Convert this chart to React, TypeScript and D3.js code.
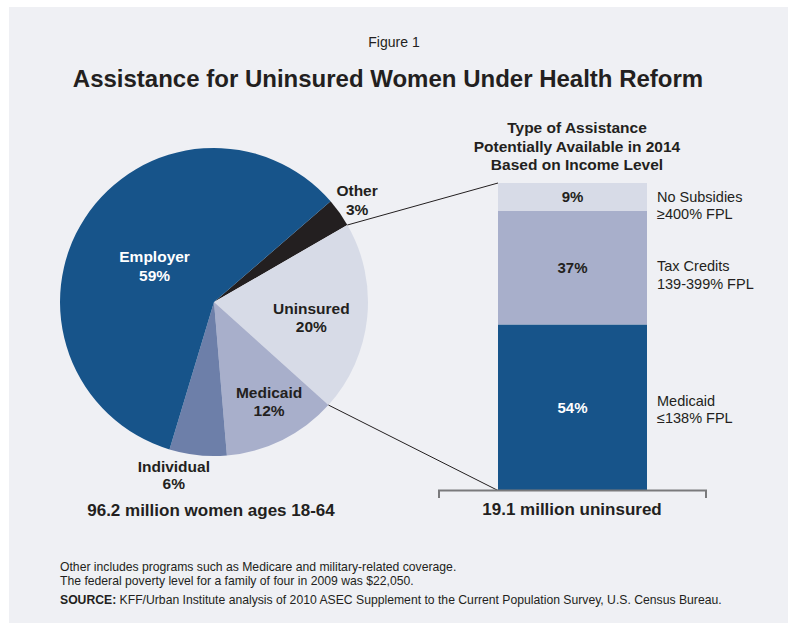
import React from "react";
import * as d3 from "d3";

// ---- Data ----
const pieCategories = ["Other", "Uninsured", "Medicaid", "Individual", "Employer"];
const pieValues = [3, 20, 12, 6, 59];
const barCategories = ["Medicaid", "Tax Credits", "No Subsidies"];
const barValues = [54, 37, 9];
const barSubLabels = ["\u2264138% FPL", "139-399% FPL", "\u2265400% FPL"];
const titleText = "Assistance for Uninsured Women Under Health Reform";
const figureText = "Figure 1";
const barTitleLines = ["Type of Assistance", "Potentially Available in 2014", "Based on Income Level"];
const pieCaption = "96.2 million women ages 18-64";
const barCaption = "19.1 million uninsured";
const notes = [
  "Other  includes programs such as Medicare and military-related coverage.",
  "The federal poverty level for a family of four in 2009 was $22,050.",
];
const sourceBold = "SOURCE:";
const sourceText = " KFF/Urban Institute analysis of 2010 ASEC Supplement to the Current Population Survey, U.S. Census Bureau.";

// ---- Styles ----
const W = 788;
const H = 623;
const BG = "#eff0f4";
const TEXT = "#231f20";
const FONT = "'Liberation Sans', Arial, Helvetica, sans-serif";
const pieColors: Record<string, string> = {
  Other: "#231f20",
  Uninsured: "#d7dbe7",
  Medicaid: "#a8afcb",
  Individual: "#6d7fa9",
  Employer: "#17548a",
};
const pieLabelColors: Record<string, string> = {
  Other: TEXT,
  Uninsured: TEXT,
  Medicaid: TEXT,
  Individual: TEXT,
  Employer: "#ffffff",
};
// label radius factor, angular offset (degrees), line gap (em)
const pieLabelPlacement: Record<string, [number, number, number]> = {
  Other: [1.14, 0, 1.2],
  Uninsured: [0.64, 3, 1.2],
  Medicaid: [0.74, -2.5, 1.2],
  Individual: [1.16, 7, 1.1],
  Employer: [0.45, -2, 1.2],
};
const barColors: Record<string, string> = {
  Medicaid: "#17548a",
  "Tax Credits": "#a8afcb",
  "No Subsidies": "#d7dbe7",
};
const barLabelColors: Record<string, string> = {
  Medicaid: "#ffffff",
  "Tax Credits": TEXT,
  "No Subsidies": TEXT,
};
// baseline shift of the side label's first line relative to the segment middle (px)
const sideLabelShift: Record<string, number> = {
  Medicaid: -1.8,
  "Tax Credits": 3.7,
  "No Subsidies": 4.7,
};

export default function App() {
  const cx = 214;
  const cy = 302;
  const r = 154;
  const startDeg = 49.2;
  const start = (startDeg * Math.PI) / 180;

  const pie = d3
    .pie<number>()
    .sort(null)
    .startAngle(start)
    .endAngle(start + 2 * Math.PI);
  const arcs = pie(pieValues);
  const arcGen = d3.arc<d3.PieArcDatum<number>>().innerRadius(0).outerRadius(r);

  const pt = (a: number, rr: number): [number, number] => [cx + rr * Math.sin(a), cy - rr * Math.cos(a)];

  // Bar scales
  const x = d3.scaleBand<string>().domain(["uninsured"]).range([439, 706]).paddingInner(0).paddingOuter(0.396);
  const y = d3.scaleLinear().domain([0, 100]).range([490.5, 183]);
  const bx = x("uninsured") as number;
  const bw = x.bandwidth();

  let cum = 0;
  const stacks = barValues.map((v, i) => {
    const s = { cat: barCategories[i], v, y0: cum, y1: cum + v, sub: barSubLabels[i] };
    cum += v;
    return s;
  });

  // connector endpoints
  const uninsuredIdx = pieCategories.indexOf("Uninsured");
  const ua = arcs[uninsuredIdx];
  const pTop = pt(ua.startAngle, r);
  const pBot = pt(ua.endAngle, r);

  return (
    <svg
      width={W}
      height={H}
      style={{ position: "absolute", left: 0, top: 0, fontFamily: FONT }}
    >
      <rect x={0} y={0} width={W} height={H} fill="#ffffff" />
      <rect x={9} y={7} width={W - 9} height={H - 7} fill={BG} />

      <text x={394} y={47} textAnchor="middle" fontSize={14} fill={TEXT}>
        {figureText}
      </text>
      <text x={388} y={87} textAnchor="middle" fontSize={24} fontWeight="bold" fill={TEXT}>
        {titleText}
      </text>

      {/* Pie */}
      <g transform={`translate(${cx},${cy})`}>
        {arcs.map((a, i) => (
          <path key={i} d={arcGen(a) as string} fill={pieColors[pieCategories[i]]} />
        ))}
      </g>
      {arcs.map((a, i) => {
        const cat = pieCategories[i];
        const [f, off, gap] = pieLabelPlacement[cat];
        const mid = (a.startAngle + a.endAngle) / 2 + (off * Math.PI) / 180;
        const [lx, ly] = pt(mid, r * f);
        return (
          <text
            key={cat}
            x={lx}
            y={ly}
            textAnchor="middle"
            fontSize={15.5}
            fontWeight="bold"
            fill={pieLabelColors[cat]}
          >
            <tspan x={lx} dy="-0.25em">{cat}</tspan>
            <tspan x={lx} dy={`${gap}em`}>{`${pieValues[i]}%`}</tspan>
          </text>
        );
      })}
      <text x={211} y={516} textAnchor="middle" fontSize={17} fontWeight="bold" fill={TEXT}>
        {pieCaption}
      </text>

      {/* Connectors */}
      <line x1={pTop[0]} y1={pTop[1]} x2={bx} y2={y(100)} stroke="#231f20" strokeWidth={1} />
      <line x1={pBot[0]} y1={pBot[1]} x2={bx} y2={y(0)} stroke="#231f20" strokeWidth={1} />

      {/* Bar */}
      {stacks.map((s) => (
        <rect
          key={s.cat}
          x={bx}
          y={y(s.y1)}
          width={bw}
          height={y(s.y0) - y(s.y1)}
          fill={barColors[s.cat]}
        />
      ))}
      {stacks.map((s) => (
        <text
          key={s.cat + "-v"}
          x={bx + bw / 2}
          y={(y(s.y0) + y(s.y1)) / 2}
          dy="0.35em"
          textAnchor="middle"
          fontSize={15}
          fontWeight="bold"
          fill={barLabelColors[s.cat]}
        >
          {`${s.v}%`}
        </text>
      ))}
      {stacks.map((s) => {
        const my = (y(s.y0) + y(s.y1)) / 2 + sideLabelShift[s.cat];
        const lx = bx + bw + 10;
        return (
          <text key={s.cat + "-l"} x={lx} y={my} fontSize={14.5} fill={TEXT}>
            <tspan x={lx}>{s.cat}</tspan>
            <tspan x={lx} dy="1.2em">{s.sub}</tspan>
          </text>
        );
      })}
      {/* Bar axis */}
      <path
        d={`M${x.range()[0]},498V${y(0)}H${x.range()[1]}V498`}
        fill="none"
        stroke="#7a7a7c"
        strokeWidth={2}
      />
      <text x={572} y={515} textAnchor="middle" fontSize={17} fontWeight="bold" fill={TEXT}>
        {barCaption}
      </text>
      {barTitleLines.map((t, i) => (
        <text key={t} x={577} y={133 + i * 18.5} textAnchor="middle" fontSize={15.5} fontWeight="bold" fill={TEXT}>
          {t}
        </text>
      ))}

      {/* Notes */}
      {notes.map((n, i) => (
        <text key={i} x={60} y={571 + i * 14} fontSize={12.2} fill={TEXT}>
          {n}
        </text>
      ))}
      <text x={60} y={604} fontSize={12.2} fill={TEXT}>
        <tspan fontWeight="bold">{sourceBold}</tspan>
        <tspan>{sourceText}</tspan>
      </text>
    </svg>
  );
}
